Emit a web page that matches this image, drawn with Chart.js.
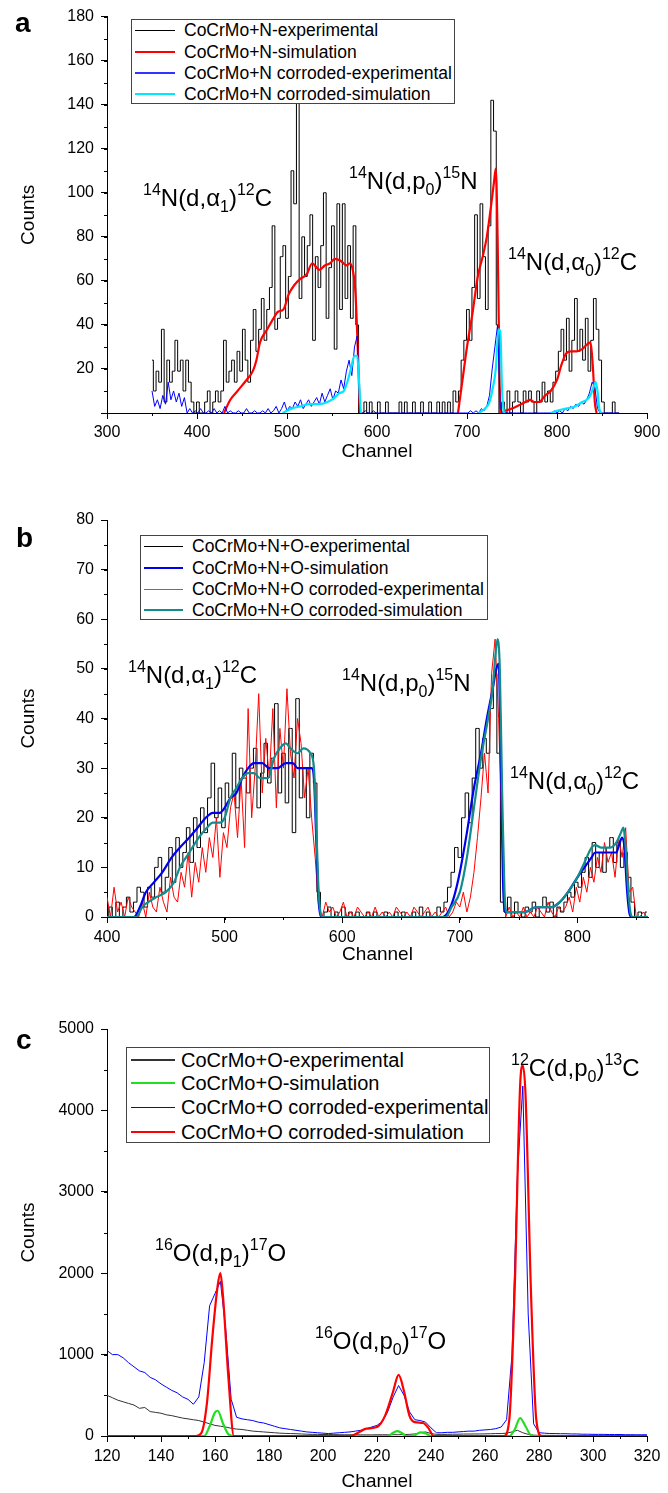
<!DOCTYPE html>
<html lang="en">
<head>
<meta charset="UTF-8" />
<title>NRA spectra</title>
<script src="https://cdn.jsdelivr.net/npm/chart.js"></script>
<style>
  body { margin: 0; background: #fff; }
  #page { position: relative; width: 668px; height: 1493px; overflow: hidden; font-family: "Liberation Sans", Arial, sans-serif; }
  canvas { position: absolute; left: 0; }
  .panel { position: absolute; font-weight: bold; font-size: 28px; line-height: 28px; }
  .ann { position: absolute; font-size: 24px; line-height: 24px; white-space: nowrap; color: #000; }
  .ann sup, .ann sub { font-size: 16px; line-height: 0; position: relative; vertical-align: baseline; }
  .ann sup { top: -11px; }
  .ann sub { top: 6px; }
  .legend { position: absolute; box-sizing: border-box; border: 1px solid #444; background: #fff; }
  .row { position: absolute; left: 0; right: 0; height: 20px; line-height: 20px; white-space: nowrap; }
  .row .ln { position: absolute; top: 10px; }
  .row .tx { position: absolute; top: 0; }
</style>
</head>
<body>
<div id="page">
  <canvas id="chartA" width="668" height="463" style="top:0"></canvas>
  <canvas id="chartB" width="668" height="490" style="top:480px"></canvas>
  <canvas id="chartC" width="668" height="493" style="top:1000px"></canvas>

  <div class="panel" style="left:15px;top:9px">a</div>
  <div class="panel" style="left:16px;top:524px">b</div>
  <div class="panel" style="left:16px;top:1026px">c</div>

  <div class="ann" style="left:143px;top:186px"><sup>14</sup>N(d,α<sub>1</sub>)<sup>12</sup>C</div>
  <div class="ann" style="left:349px;top:169px"><sup>14</sup>N(d,p<sub>0</sub>)<sup>15</sup>N</div>
  <div class="ann" style="left:508px;top:250px"><sup>14</sup>N(d,α<sub>0</sub>)<sup>12</sup>C</div>

  <div class="ann" style="left:128px;top:663px"><sup>14</sup>N(d,α<sub>1</sub>)<sup>12</sup>C</div>
  <div class="ann" style="left:342px;top:671px"><sup>14</sup>N(d,p<sub>0</sub>)<sup>15</sup>N</div>
  <div class="ann" style="left:510px;top:769px"><sup>14</sup>N(d,α<sub>0</sub>)<sup>12</sup>C</div>

  <div class="ann" style="left:155px;top:1241px"><sup>16</sup>O(d,p<sub>1</sub>)<sup>17</sup>O</div>
  <div class="ann" style="left:315px;top:1329px"><sup>16</sup>O(d,p<sub>0</sub>)<sup>17</sup>O</div>
  <div class="ann" style="left:511px;top:1056px"><sup>12</sup>C(d,p<sub>0</sub>)<sup>13</sup>C</div>

  <div class="legend" id="legA" style="left:131px;top:19px;width:324px;height:85px;font-size:17.5px"></div>
  <div class="legend" id="legB" style="left:140px;top:535px;width:348px;height:85px;font-size:17.5px"></div>
  <div class="legend" id="legC" style="left:126px;top:1047px;width:364px;height:96px;font-size:20px"></div>
</div>

<script>
  // ---- panel a : CoCrMo+N ----
  // experimental spectra, one value every 3 channels starting at channel 350
  const aExpStart = 350;
  const aExpBlack = [
    24, 10, 19, 14, 38, 5, 24, 14, 19, 33,
    19, 24, 10, 24, 14, 5, 0, 5, 0, 0,
    5, 10, 0, 5, 10, 5, 10, 33, 14, 19,
    24, 14, 28, 19, 38, 24, 14, 33, 47, 28,
    38, 52, 33, 47, 57, 85, 38, 43, 71, 76,
    43, 62, 110, 95, 150, 52, 80, 62, 76, 90,
    33, 71, 57, 76, 100, 43, 66, 85, 29, 95,
    47, 95, 52, 76, 43, 85, 40, 0, 0, 5,
    0, 5, 0, 0, 5, 0, 0, 5, 0, 0,
    0, 0, 5, 0, 5, 0, 0, 5, 0, 0,
    5, 0, 0, 5, 0, 0, 5, 0, 5, 0,
    5, 0, 10, 5, 10, 24, 33, 47, 33, 57,
    90, 52, 95, 71, 47, 85, 142, 128, 40, 0,
    5, 0, 10, 0, 5, 10, 5, 0, 10, 5,
    10, 5, 0, 10, 5, 14, 5, 10, 5, 14,
    19, 28, 38, 24, 43, 19, 33, 52, 28, 38,
    24, 43, 19, 33, 52, 38, 24, 5, 0, 0,
    0, 5, 0, 0
  ];
  const aExpBlue = [
    10, 3, 6, 2, 8, 4, 14, 6, 10, 5,
    9, 3, 7, 0, 2, 0, 1, 0, 2, 0,
    0, 1, 0, 2, 0, 1, 0, 3, 0, 1,
    0, 0, 1, 0, 0, 2, 0, 0, 1, 0,
    0, 1, 0, 2, 0, 1, 3, 0, 2, 5,
    1, 3, 2, 5, 3, 6, 2, 4, 6, 3,
    5, 7, 4, 9, 5, 8, 11, 6, 10, 9,
    15, 11, 19, 24, 17, 30, 35, 0, 0, 1,
    0, 0, 1, 0, 0, 0, 0, 0, 0, 0,
    0, 0, 0, 0, 0, 0, 0, 0, 0, 0,
    0, 0, 0, 0, 0, 0, 0, 0, 0, 0,
    0, 0, 0, 0, 0, 0, 0, 0, 1, 0,
    1, 0, 2, 1, 3, 8, 20, 30, 40, 2,
    0, 0, 0, 0, 0, 0, 0, 0, 0, 0,
    0, 0, 0, 0, 0, 0, 0, 0, 0, 1,
    0, 1, 0, 2, 1, 3, 2, 4, 3, 5,
    4, 6, 9, 14, 12, 2, 0, 0, 0, 0,
    0, 0, 0, 0
  ];
  // simulations (null = no curve drawn)
  const aSimRedCh = [430, 437, 445, 455, 462, 466, 470, 478, 485, 490, 496, 502, 508, 515, 522, 528, 533, 536, 542, 548,
    553, 560, 566, 570, 573, 576, 579, 581, 620, 690, 695, 700, 706, 712, 718, 722, 727, 730, 732, 734,
    736, 737, 739, 742, 750, 760, 765, 770, 775, 780, 787, 793, 800, 805, 810, 815, 822, 828, 833, 836,
    838, 840, 842, 844];
  const aSimRed = [0, 6, 10, 15, 19, 24, 32, 38, 43, 46, 47, 54, 58, 61, 63, 68, 66, 65, 67, 68,
    70, 69, 67, 68, 65, 55, 25, 0, null, 0, 15, 30, 45, 62, 72, 80, 95, 105, 111, 80,
    20, 0, null, 1, 2, 4, 5, 6, 5, 5, 8, 10, 15, 22, 27, 28, 28, 29, 31, 32,
    30, 20, 5, 0];
  const aSimCyanCh = [495, 505, 515, 525, 535, 545, 553, 558, 563, 567, 571, 575, 578, 580, 582, 650, 713, 720, 725, 729,
    732, 735, 737, 739, 741, 770, 793, 800, 810, 820, 828, 833, 837, 840, 843, 845, 847, 849];
  const aSimCyan = [0, 2, 3, 4, 4, 5, 7, 9, 10, 14, 20, 26, 26, 15, 0, null, 0, 2, 5, 12,
    20, 38, 37, 10, 0, null, 0, 1, 2, 3, 5, 6, 8, 11, 14, 10, 2, 0];

  // ---- panel b : CoCrMo+N+O ----
  const bExpStart = 400;
  const bExpBlack = [
    0, 2, 0, 3, 0, 2, 4, 1, 3, 6,
    5, 2, 6, 4, 10, 12, 5, 8, 14, 7,
    16, 10, 13, 18, 11, 20, 14, 22, 17, 24,
    31, 20, 26, 18, 27, 24, 33, 22, 30, 28,
    25, 30, 34, 22, 29, 35, 27, 32, 43, 25,
    33, 23, 38, 17, 44, 24, 30, 20, 33, 27,
    5, 0, 1, 2, 0, 1, 0, 2, 0, 1,
    0, 1, 0, 0, 1, 0, 1, 0, 0, 1,
    0, 0, 1, 0, 1, 0, 0, 1, 0, 2,
    0, 1, 0, 0, 2, 1, 3, 6, 9, 14,
    12, 20, 25, 19, 28, 38, 30, 36, 33, 42,
    49, 33, 3, 1, 4, 0, 3, 1, 0, 2,
    1, 3, 0, 2, 4, 1, 3, 0, 2, 1,
    3, 5, 4, 7, 6, 9, 12, 8, 15, 10,
    13, 9, 14, 16, 11, 15, 10, 13, 8, 3,
    0, 1, 0, 1
  ];
  const bExpRed = [
    4, 0, 6, 1, 3, 0, 4, 2, 1, 0,
    3, 0, 5, 2, 1, 6, 3, 1, 8, 4,
    3, 9, 6, 13, 4, 11, 7, 14, 9, 16,
    12, 20, 8, 17, 14, 22, 25, 16, 28, 14,
    42, 20, 30, 45, 25, 36, 28, 42, 22, 38,
    30, 46, 33, 28, 40, 35, 24, 30, 20, 12,
    2, 0, 3, 1, 2, 0, 1, 3, 0, 1,
    0, 2, 1, 0, 1, 0, 2, 0, 1, 0,
    1, 0, 2, 1, 0, 1, 0, 2, 1, 0,
    1, 2, 0, 1, 0, 1, 2, 0, 1, 3,
    2, 5, 1, 4, 9, 16, 24, 33, 25, 49,
    56, 40, 15, 0, 2, 0, 1, 0, 2, 0,
    1, 0, 2, 1, 0, 3, 1, 0, 2, 1,
    2, 4, 1, 6, 3, 8, 5, 10, 7, 12,
    9, 15, 11, 13, 8, 16, 12, 18, 5, 6,
    0, 0, 1, 0
  ];
  const bSimBlueCh = [400, 423, 428, 433, 440, 447, 455, 462, 470, 477, 484, 490, 496, 500, 505, 510, 515, 520, 525, 532,
    538, 545, 552, 558, 562, 568, 574, 576, 578, 580, 583, 685, 690, 695, 700, 706, 712, 718, 723, 728,
    731, 733, 735, 737, 739, 745, 755, 765, 772, 778, 785, 792, 800, 806, 812, 815, 820, 828, 833, 836,
    838, 840, 842, 844, 846, 860];
  const bSimBlue = [0, 0, 2, 5, 7, 9, 12, 14, 16, 18, 20, 21, 21, 22, 24, 25, 28, 30, 31, 31,
    30, 30, 31, 31, 30, 30, 30, 28, 15, 3, 0, 0, 1, 4, 9, 17, 26, 33, 40, 46,
    50, 51, 30, 5, 1, 1, 1, 2, 2, 2, 3, 5, 8, 10, 12, 13, 13, 13, 13, 15,
    16, 14, 6, 1, 0, 0];
  const bSimTealCh = [400, 425, 430, 435, 442, 450, 457, 462, 470, 478, 485, 490, 496, 500, 505, 510, 515, 520, 525, 530,
    537, 542, 547, 552, 556, 562, 567, 573, 576, 578, 580, 583, 688, 693, 700, 706, 712, 718, 724, 728,
    730, 732, 734, 736, 738, 740, 745, 755, 765, 772, 778, 785, 792, 800, 806, 812, 815, 820, 828, 833,
    837, 839, 841, 843, 845, 847, 860];
  const bSimTeal = [0, 0, 2, 3, 4, 5, 7, 10, 13, 16, 18, 19, 19, 20, 24, 26, 28, 29, 29, 28,
    28, 32, 34, 35, 34, 33, 34, 33, 30, 18, 5, 0, 0, 2, 5, 12, 22, 32, 40, 46,
    52, 56, 50, 25, 5, 1, 1, 1, 2, 2, 2, 3, 5, 8, 11, 14, 14.5, 14, 14, 15,
    17, 18, 14, 6, 1, 0, 0];

  // ---- panel c : CoCrMo+O ----
  // experimental spectra, one value every 2 channels starting at channel 120
  const cExpStart = 120;
  const cExpBlack = [
    500, 470, 440, 420, 400, 380, 340, 350, 300, 290,
    280, 260, 250, 235, 220, 210, 200, 190, 170, 150,
    130, 120, 110, 95, 85, 80, 70, 60, 55, 50,
    45, 40, 35, 32, 30, 28, 25, 22, 20, 20,
    18, 18, 17, 16, 15, 15, 15, 14, 14, 14,
    15, 15, 15, 16, 16, 18, 20, 25, 40, 50,
    30, 20, 20, 20, 22, 22, 24, 24, 25, 25,
    26, 28, 30, 30, 35, 50, 70, 40, 20, 10,
    8, 8, 7, 7, 6, 6, 6, 5, 5, 5,
    5, 5, 5, 5, 4, 4, 4, 4, 4, 4,
    4
  ];
  const cExpBlue = [
    1050, 1000, 1000, 960, 900, 850, 800, 780, 720, 690,
    640, 600, 560, 530, 480, 450, 390, 480, 900, 1600,
    1750, 1900, 1300, 450, 230, 210, 200, 190, 170, 160,
    140, 120, 100, 90, 80, 70, 60, 50, 45, 40,
    35, 30, 35, 40, 45, 50, 60, 70, 90, 110,
    130, 180, 300, 480, 620, 500, 300, 200, 190, 170,
    100, 40, 40, 45, 45, 50, 55, 60, 60, 70,
    75, 80, 90, 110, 200, 1000, 3200, 4300, 1500, 150,
    40, 35, 30, 30, 28, 28, 25, 25, 22, 22,
    20, 20, 20, 18, 18, 18, 16, 16, 15, 15,
    15
  ];
  const cSimRedCh = [120, 153, 155, 157, 159, 161, 162, 163, 165, 167, 210, 213, 216, 220, 223, 226, 228, 230, 232, 234,
    237, 239, 241, 267, 269, 271, 273, 274, 275, 277, 279, 281, 320];
  const cSimRed = [0, 0, 40, 400, 1200, 1850, 2000, 1700, 700, 0, 0, 40, 90, 110, 250, 550, 750, 550, 250, 170,
    160, 100, 0, 0, 200, 1800, 4300, 4550, 4200, 1800, 200, 0, 0];
  const cSimGreenCh = [120, 156, 158, 160, 161, 163, 165, 167, 224, 226, 227.5, 229, 231, 234, 236, 238, 240, 269, 271, 273,
    275, 277, 279, 320];
  const cSimGreen = [0, 0, 120, 290, 310, 150, 20, 0, 0, 40, 60, 40, 0, 10, 45, 30, 0, 0, 80, 220,
    120, 10, 0, 0];

  const FONT = '"Liberation Sans", Arial, sans-serif';

  function steps(start, step, vals) {
    return vals.map((v, i) => ({ x: start + i * step, y: v }));
  }
  function pts(ch, vals) {
    return ch.map((c, i) => ({ x: c, y: vals[i] }));
  }

  function exp(label, data, color, width, order, stepped) {
    return { label, data, borderColor: color, borderWidth: width, order, stepped: stepped ? 'middle' : false, tension: 0 };
  }
  function sim(label, data, color, order) {
    return { label, data, borderColor: color, borderWidth: 2.2, order, cubicInterpolationMode: 'monotone' };
  }

  // short outward minor ticks
  const minorTicks = {
    id: 'minorTicks',
    afterDraw(chart, args, opts) {
      const { ctx } = chart;
      const xs = chart.scales.x, ys = chart.scales.y;
      ctx.save();
      ctx.strokeStyle = '#000';
      ctx.lineWidth = 1;
      ctx.beginPath();
      for (let v = xs.min; v <= xs.max + 1e-9; v += opts.x) {
        const px = Math.round(xs.getPixelForValue(v)) + 0.5;
        ctx.moveTo(px, ys.bottom);
        ctx.lineTo(px, ys.bottom + 3);
      }
      for (let v = ys.min; v <= ys.max + 1e-9; v += opts.y) {
        const py = Math.round(ys.getPixelForValue(v)) + 0.5;
        ctx.moveTo(xs.left, py);
        ctx.lineTo(xs.left - 3, py);
      }
      ctx.stroke();
      ctx.restore();
    }
  };

  function makeChart(id, datasets, c) {
    const tickFont = { family: FONT, size: 16 };
    const titleFont = { family: FONT, size: 19 };
    return new Chart(document.getElementById(id), {
      type: 'line',
      data: { datasets },
      options: {
        responsive: false,
        animation: false,
        devicePixelRatio: 1,
        layout: { padding: { top: c.padTop, right: c.padRight, left: 0, bottom: 0 } },
        elements: { point: { radius: 0 } },
        plugins: {
          legend: { display: false },
          tooltip: { enabled: false },
          minorTicks: { x: c.xMinor, y: c.yMinor }
        },
        scales: {
          x: {
            type: 'linear', min: c.xMin, max: c.xMax, z: c.xZ || 0,
            border: { color: '#000', width: 1 },
            grid: { drawOnChartArea: false, drawTicks: true, tickLength: 6, color: '#000' },
            ticks: { stepSize: c.xStep, color: '#000', font: tickFont, padding: c.xPad, maxRotation: 0, autoSkip: false, callback: v => String(v) },
            afterBuildTicks: s => { s.ticks = s.ticks.filter(t => t.value % c.xStep === 0); },
            title: { display: true, text: 'Channel', color: '#000', font: titleFont, padding: { top: 0, bottom: c.titleBottom } },
            afterFit: s => { s.height = c.xHeight; }
          },
          y: {
            type: 'linear', min: c.yMin, max: c.yMax,
            border: { color: '#000', width: 1 },
            grid: { drawOnChartArea: false, drawTicks: true, tickLength: 6, color: '#000' },
            ticks: { stepSize: c.yStep, color: '#000', font: tickFont, padding: 7, autoSkip: false,
              callback: v => (c.hideZero && v === 0) ? '' : String(v) },
            title: { display: true, text: 'Counts', color: '#000', font: titleFont, padding: { top: 17, bottom: 0 } },
            afterFit: s => { s.width = 107; }
          }
        }
      },
      plugins: [minorTicks]
    });
  }

  function legend(id, rows, sampleLeft, sampleWidth, textLeft, rowTops) {
    const box = document.getElementById(id);
    rows.forEach((r, i) => {
      const row = document.createElement('div');
      row.className = 'row';
      row.style.top = rowTops[i] + 'px';
      const ln = document.createElement('div');
      ln.className = 'ln';
      ln.style.left = sampleLeft + 'px';
      ln.style.width = sampleWidth + 'px';
      ln.style.height = r.w + 'px';
      ln.style.marginTop = (-r.w / 2) + 'px';
      ln.style.background = r.color;
      const tx = document.createElement('div');
      tx.className = 'tx';
      tx.style.left = textLeft + 'px';
      tx.textContent = r.label;
      row.appendChild(ln);
      row.appendChild(tx);
      box.appendChild(row);
    });
  }

  // panel a
  const aRows = [
    { label: 'CoCrMo+N-experimental', color: '#000000', w: 1 },
    { label: 'CoCrMo+N-simulation', color: '#ff0000', w: 2.5 },
    { label: 'CoCrMo+N corroded-experimental', color: '#3333ff', w: 1.5 },
    { label: 'CoCrMo+N corroded-simulation', color: '#00e8ff', w: 2.5 }
  ];
  makeChart('chartA', [
    exp(aRows[0].label, steps(aExpStart, 3, aExpBlack), '#000000', 1, 4, true),
    sim(aRows[1].label, pts(aSimRedCh, aSimRed), '#ff0000', 3),
    exp(aRows[2].label, steps(aExpStart, 3, aExpBlue), '#0000ff', 1, 2, false),
    sim(aRows[3].label, pts(aSimCyanCh, aSimCyan), '#00e8ff', 1)
  ], { xMin: 300, xMax: 900, xStep: 100, xMinor: 50, yMin: 0, yMax: 180, yStep: 20, yMinor: 10,
       padTop: 16, padRight: 21, xHeight: 50, xPad: 4, titleBottom: 0, hideZero: true, xZ: 1 });
  legend('legA', aRows, 3, 40, 52, [0, 22, 43, 64]);

  // panel b
  const bRows = [
    { label: 'CoCrMo+N+O-experimental', color: '#000000', w: 1 },
    { label: 'CoCrMo+N+O-simulation', color: '#0000ee', w: 2.5 },
    { label: 'CoCrMo+N+O corroded-experimental', color: '#ff3333', w: 1 },
    { label: 'CoCrMo+N+O corroded-simulation', color: '#128c8c', w: 2.5 }
  ];
  makeChart('chartB', [
    exp(bRows[0].label, steps(bExpStart, 3, bExpBlack), '#000000', 1, 4, true),
    sim(bRows[1].label, pts(bSimBlueCh, bSimBlue), '#0000ee', 2),
    exp(bRows[2].label, steps(bExpStart, 3, bExpRed), '#ff0000', 1, 3, false),
    sim(bRows[3].label, pts(bSimTealCh, bSimTeal), '#128c8c', 1)
  ], { xMin: 400, xMax: 860, xStep: 100, xMinor: 50, yMin: 0, yMax: 80, yStep: 10, yMinor: 5,
       padTop: 40, padRight: 20, xHeight: 53, xPad: 5, titleBottom: 4, hideZero: false });
  legend('legB', bRows, 3, 39, 51, [0, 22, 43, 64]);

  // panel c
  const cRows = [
    { label: 'CoCrMo+O-experimental', color: '#333333', w: 1.5 },
    { label: 'CoCrMo+O-simulation', color: '#22dd22', w: 2.5 },
    { label: 'CoCrMo+O corroded-experimental', color: '#0000ff', w: 1 },
    { label: 'CoCrMo+O corroded-simulation', color: '#ff0000', w: 2.5 }
  ];
  makeChart('chartC', [
    exp(cRows[0].label, steps(cExpStart, 2, cExpBlack), '#333333', 1, 4, false),
    sim(cRows[1].label, pts(cSimGreenCh, cSimGreen), '#22dd22', 2),
    exp(cRows[2].label, steps(cExpStart, 2, cExpBlue), '#0000ff', 1, 3, false),
    sim(cRows[3].label, pts(cSimRedCh, cSimRed), '#ff0000', 1)
  ], { xMin: 120, xMax: 320, xStep: 20, xMinor: 10, yMin: 0, yMax: 5000, yStep: 1000, yMinor: 500,
       padTop: 29, padRight: 21, xHeight: 57, xPad: 5, titleBottom: 0, hideZero: false });
  legend('legC', cRows, 4, 44, 54, [2, 25, 49, 74]);
</script>
</body>
</html>
